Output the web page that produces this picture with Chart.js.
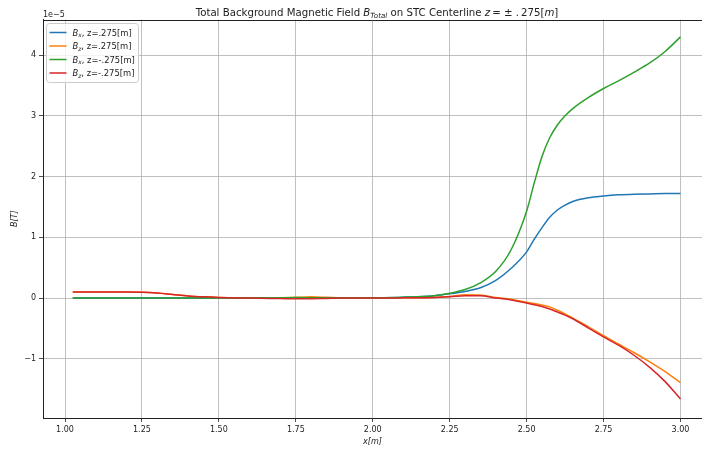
<!DOCTYPE html>
<html>
<head>
<meta charset="utf-8">
<script src="https://cdn.jsdelivr.net/npm/chart.js@4.4.1/dist/chart.umd.min.js"></script>
<style>
html, body { margin: 0; padding: 0; background: #fff; }
canvas { display: block; }
</style>
</head>
<body>
<canvas id="chart" width="702" height="451"></canvas>
<script>
// positions along the centerline [m]
var xPositions = [1.025, 1.1, 1.2, 1.25, 1.3, 1.35, 1.4, 1.45, 1.5, 1.6, 1.7, 1.75, 1.8, 1.85, 1.9, 2.0, 2.1, 2.2, 2.25, 2.3, 2.35, 2.4, 2.45, 2.5, 2.525, 2.55, 2.575, 2.6, 2.625, 2.65, 2.7, 2.75, 2.8, 2.85, 2.9, 2.95, 3.0];

// field components, in units of 1e-5 T
var bxPlus  = [0, 0, 0, 0, 0, 0, 0, 0, 0, 0, 0.002, 0.003, 0.003, 0.003, 0.004, 0.006, 0.015, 0.04, 0.07, 0.11, 0.17, 0.29, 0.49, 0.76, 0.97, 1.16, 1.33, 1.45, 1.53, 1.59, 1.65, 1.68, 1.70, 1.71, 1.715, 1.72, 1.72];
var bzPlus  = [0.1, 0.1, 0.1, 0.098, 0.085, 0.06, 0.035, 0.02, 0.01, 0, 0.005, 0.012, 0.02, 0.012, 0.003, 0, 0.004, 0.01, 0.025, 0.055, 0.05, 0.01, -0.02, -0.07, -0.09, -0.115, -0.145, -0.2, -0.26, -0.33, -0.47, -0.62, -0.76, -0.9, -1.05, -1.21, -1.39];
var bxMinus = [0, 0, 0, 0, 0, 0, 0, 0, 0, 0.003, 0.006, 0.008, 0.007, 0.005, 0.004, 0.006, 0.015, 0.04, 0.08, 0.14, 0.25, 0.44, 0.8, 1.43, 1.9, 2.33, 2.64, 2.85, 3.0, 3.12, 3.3, 3.45, 3.58, 3.72, 3.87, 4.06, 4.30];
var bzMinus = [0.1, 0.1, 0.1, 0.098, 0.085, 0.06, 0.035, 0.02, 0.01, 0, -0.008, -0.012, -0.01, -0.005, 0, 0, 0.004, 0.01, 0.02, 0.04, 0.04, 0, -0.03, -0.08, -0.11, -0.14, -0.18, -0.23, -0.28, -0.34, -0.49, -0.64, -0.78, -0.945, -1.14, -1.375, -1.66];

var xTicks = [1.0, 1.25, 1.5, 1.75, 2.0, 2.25, 2.5, 2.75, 3.0];
var yTicks = [-1, 0, 1, 2, 3, 4];

var seriesSub = ['x', 'z', 'x', 'z'];
var seriesTail = [', z=.275[m]', ', z=.275[m]', ', z=-.275[m]', ', z=-.275[m]'];
var seriesColors = ['#1f77b4', '#ff7f0e', '#2ca02c', '#d62728'];
var seriesValues = [bxPlus, bzPlus, bxMinus, bzMinus];

var FONT = '"DejaVu Sans", sans-serif';

function toPoints(ys) {
    return xPositions.map(function (x, i) { return { x: x, y: ys[i] }; });
}

// draws a run of text pieces, some italic / subscripted (poor man's mathtext)
function richText(ctx, parts, x, y, size, align) {
    var widths = parts.map(function (p) {
        ctx.font = (p.it ? 'italic ' : '') + (p.sub ? size * 0.7 : size) + 'px ' + FONT;
        return ctx.measureText(p.t).width;
    });
    var total = widths.reduce(function (a, b) { return a + b; }, 0);
    var cx = align === 'center' ? x - total / 2 : x;
    ctx.textAlign = 'left';
    ctx.textBaseline = 'alphabetic';
    parts.forEach(function (p, i) {
        ctx.font = (p.it ? 'italic ' : '') + (p.sub ? size * 0.7 : size) + 'px ' + FONT;
        ctx.fillText(p.t, cx, y + (p.sub ? size * 0.22 : 0));
        cx += widths[i];
    });
}

var decorations = {
    id: 'decorations',
    afterDraw: function (chart) {
        var ctx = chart.ctx, a = chart.chartArea;
        ctx.save();
        ctx.fillStyle = '#222';

        // top spine
        ctx.strokeStyle = '#222';
        ctx.lineWidth = 1;
        ctx.beginPath();
        ctx.moveTo(a.left, Math.round(a.top) + 0.5);
        ctx.lineTo(a.right, Math.round(a.top) + 0.5);
        ctx.stroke();

        // offset text
        ctx.font = '8px ' + FONT;
        ctx.textAlign = 'left';
        ctx.textBaseline = 'middle';
        ctx.fillText('1e\u22125', 43, 15);

        // title
        richText(ctx, [
            { t: 'Total Background Magnetic Field ' },
            { t: 'B', it: true },
            { t: 'Total', it: true, sub: true },
            { t: ' on STC Centerline ' },
            { t: 'z', it: true },
            { t: '\u2009= \u00b1 .\u2009275[' },
            { t: 'm', it: true },
            { t: ']' }
        ], 377, 15.5, 10.2, 'center');

        // legend
        var bx = 46.5, by = 23.5, bw = 92, bh = 59;
        ctx.fillStyle = 'rgba(255,255,255,0.8)';
        ctx.strokeStyle = '#cccccc';
        ctx.lineWidth = 1;
        ctx.beginPath();
        ctx.roundRect(bx, by, bw, bh, 3);
        ctx.fill();
        ctx.stroke();
        for (var i = 0; i < seriesColors.length; i++) {
            var ry = 32.5 + i * 13.5;
            ctx.strokeStyle = seriesColors[i];
            ctx.lineWidth = 1.5;
            ctx.beginPath();
            ctx.moveTo(49.5, ry);
            ctx.lineTo(66.5, ry);
            ctx.stroke();
            ctx.fillStyle = '#222';
            richText(ctx, [
                { t: 'B', it: true },
                { t: seriesSub[i], it: true, sub: true },
                { t: seriesTail[i] }
            ], 72.5, ry + 3, 8.4, 'left');
        }
        ctx.restore();
    }
};

new Chart(document.getElementById('chart'), {
    type: 'line',
    data: {
        datasets: seriesValues.map(function (vals, i) {
            return {
                label: 'B' + seriesSub[i] + seriesTail[i],
                data: toPoints(vals),
                borderColor: seriesColors[i],
                borderWidth: 1.5,
                pointRadius: 0,
                fill: false,
                order: seriesValues.length - i,   // later series on top, like matplotlib
                cubicInterpolationMode: 'monotone'
            };
        })
    },
    options: {
        responsive: false,
        animation: false,
        layout: { padding: { top: 19.5, right: 0, left: 0, bottom: 0 } },
        plugins: {
            legend: { display: false },
            title: { display: false },
            tooltip: { enabled: false }
        },
        scales: {
            x: {
                type: 'linear',
                min: 0.9285,
                max: 3.0699,
                afterBuildTicks: function (scale) {
                    scale.ticks = xTicks.map(function (v) { return { value: v }; });
                },
                afterFit: function (scale) { scale.height = 33; },
                ticks: {
                    font: { family: FONT, size: 8 },
                    color: '#222',
                    padding: 3,
                    maxRotation: 0,
                    callback: function (v) { return v.toFixed(2); }
                },
                grid: { color: '#b0b0b0', lineWidth: 0.8, tickLength: 4, tickColor: '#222' },
                border: { color: '#222', width: 1 },
                title: {
                    display: true,
                    text: 'x[m]',
                    font: { family: FONT, size: 8, style: 'italic' },
                    color: '#222',
                    padding: { top: 1, bottom: 4 }
                }
            },
            y: {
                min: -1.974,
                max: 4.586,
                afterBuildTicks: function (scale) {
                    scale.ticks = yTicks.map(function (v) { return { value: v }; });
                },
                afterFit: function (scale) { scale.width = 43; },
                ticks: {
                    font: { family: FONT, size: 8 },
                    color: '#222',
                    padding: 3,
                    callback: function (v) { return v < 0 ? '\u2212' + Math.abs(v) : String(v); }
                },
                grid: { color: '#b0b0b0', lineWidth: 0.8, tickLength: 4, tickColor: '#222' },
                border: { color: '#222', width: 1 },
                title: {
                    display: true,
                    text: 'B[T]',
                    font: { family: FONT, size: 8, style: 'italic' },
                    color: '#222',
                    padding: { top: 10, bottom: 0 }
                }
            }
        }
    },
    plugins: [decorations]
});
</script>
</body>
</html>
